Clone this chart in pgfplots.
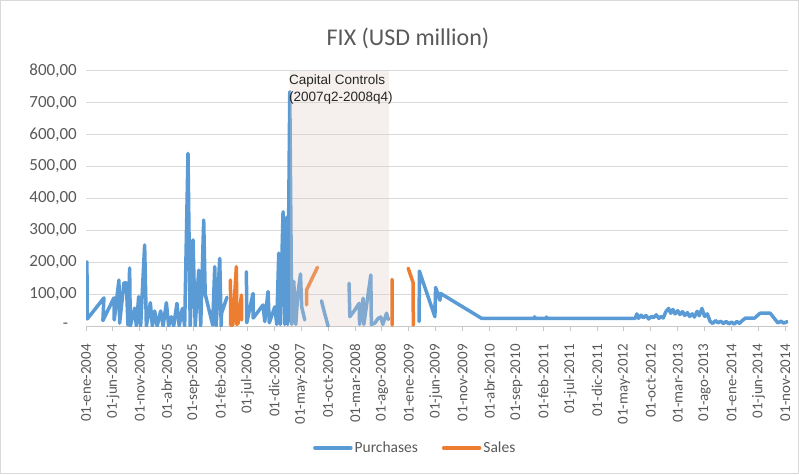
\documentclass[border=0pt]{standalone}
\usepackage{fontspec}
\setmainfont{Carlito}
\newfontfamily\arialfont{Liberation Sans}
\usepackage{pgfplots}
\pgfplotsset{compat=1.18}
\definecolor{cblue}{RGB}{91,155,213}
\definecolor{corange}{RGB}{237,125,49}
\definecolor{ctext}{RGB}{89,89,89}
\definecolor{cgrid}{RGB}{217,217,217}
\definecolor{caxis}{RGB}{200,200,200}
\definecolor{cshade}{RGB}{222,205,200}
\begin{document}
\begin{tikzpicture}
\path[use as bounding box] (0,0) rectangle (799pt,474pt);
\draw[cgrid, line width=0.8pt] (0.4pt,0.4pt) rectangle (798.6pt,473.6pt);
\node[font=\fontsize{24}{28}\selectfont, text=ctext] at (408pt,436pt) {FIX (USD million)};
\begin{axis}[
  at={(86pt,148pt)}, anchor=south west,
  scale only axis, width=702pt, height=255.3pt,
  xmin=0, xmax=130.5, ymin=0, ymax=800,
  axis x line*=bottom, axis y line*=left,
  y axis line style={draw=none},
  x axis line style={caxis, line width=0.9pt},
  ytick={0,100,...,800},
  yticklabels={{-\hphantom{0}},{100,00},{200,00},{300,00},{400,00},{500,00},{600,00},{700,00},{800,00}},
  ymajorgrids, major grid style={cgrid, line width=0.9pt},
  ytick style={draw=none},
  xtick={0,5,...,130},
  xticklabels={01-ene-2004,01-jun-2004,01-nov-2004,01-abr-2005,01-sep-2005,01-feb-2006,01-jul-2006,01-dic-2006,01-may-2007,01-oct-2007,01-mar-2008,01-ago-2008,01-ene-2009,01-jun-2009,01-nov-2009,01-abr-2010,01-sep-2010,01-feb-2011,01-jul-2011,01-dic-2011,01-may-2012,01-oct-2012,01-mar-2013,01-ago-2013,01-ene-2014,01-jun-2014,01-nov-2014},
  xtick style={caxis, line width=0.9pt},
  tick align=outside, major tick length=5pt,
  xticklabel style={rotate=90, anchor=east, inner sep=0pt, xshift=-13pt, font=\fontsize{15}{18}\selectfont, text=ctext},
  yticklabel style={inner sep=0pt, xshift=-4pt, font=\fontsize{17}{20}\selectfont, text=ctext},
  unbounded coords=jump,
  legend columns=2,
  legend style={at={(axis description cs:0.469,-0.478)}, anchor=center, draw=none, fill=none,
    font=\fontsize{15.5}{18}\selectfont, text=ctext,
    /tikz/every even column/.append style={column sep=22pt}},
  legend image code/.code={\draw[#1] (0pt,0pt) -- (36pt,0pt);},
]
\addplot[cblue, line width=3.5pt, line join=round, line cap=round] coordinates {
(0.17,201)(0.24,22)(3.33,88)(3.14,17)(5.19,88)(5.25,19)(6.12,144)(6.25,9)(7.05,135)(7.5,135)(7.8,3)(8.11,182)(8.24,0)(9.04,56)(9.36,0)(9.79,92)(10.16,0)(10.9,254)(11.22,0)(11.96,73)(12.33,0)(12.76,47)(13.23,0)(13.88,47)(14.34,0)(14.94,73)(15.37,0)(15.87,29)(16.3,0)(16.91,71)(17.32,0)(17.92,55)(18.34,0)(18.96,541)(19.37,0)(19.89,270)(20.3,0)(20.95,175)(21.32,0)(21.88,332)(22.16,100)(23.55,3)(23.93,186)(24.2,0)(24.86,212)(25.13,0)(25.2,40)(26.2,90)
(26.3,nan)
(29.82,170)(29.88,10)(31.05,102)(31.09,25)(32.91,66)(33.23,14)(33.84,108)(34.07,10)(35.1,60)(35.46,5)(35.83,228)(36.11,5)(36.63,358)(36.95,5)(37.23,340)(37.5,5)(37.88,734)(38.25,5)(38.62,140)(39.0,5)(39.37,100)(39.87,163)(40.1,60)(40.67,19)
(41,nan)
(43.78,79)(44.2,50)(45.0,0)
(46,nan)
(48.9,134)(49.04,29)(49.97,50)(50.77,71)(50.86,5)(51.52,87)(51.65,5)(52.95,160)(53.04,5)(53.69,9)(54.3,24)(54.8,28)(55.18,5)(55.87,40)(56.2,20)
(57,nan)
(61.93,14)(61.97,172)(64.86,29)(64.99,121)(65.8,81)(65.92,102)(73.54,24)(83.3,24)(83.4,29)(83.5,24)(85.5,24)(85.6,28)(85.7,24)(102.1,24)(102.4,38)(102.7,24)(103.2,34)(103.6,26)(104.1,33)(104.6,22)(105.1,30)(105.5,26)(106.0,35)(106.5,24)(106.9,30)(107.3,25)(107.8,45)(108.3,55)(108.7,40)(109.1,52)(109.5,38)(110.0,48)(110.4,36)(110.9,45)(111.3,33)(111.8,42)(112.2,30)(112.7,38)(113.1,28)(113.6,46)(114.0,32)(114.5,55)(115.0,30)(115.5,38)(116.0,15)(116.5,8)(117.0,17)(117.5,10)(118.0,15)(118.5,8)(119.0,14)(119.5,7)(120.0,12)(120.5,6)(121.0,14)(121.5,8)(122.0,17)(122.6,25)(124.3,25)(125.3,40)(127.2,40)(128.6,10)(129.2,15)(129.7,9)(130.4,14)
};
\addlegendentry{Purchases}
\addplot[corange, line width=3.5pt, line join=round, line cap=round] coordinates {
(26.85,144)(26.9,3)(27.3,3)(27.95,186)(28.05,5)(28.3,10)(28.9,97)(28.95,19)
(30,nan)
(41.0,66)(41.0,113)(43.03,184)
(44,nan)
(56.9,146)(56.92,3)
(58,nan)
(59.9,181)(60.82,135)(60.84,3)
};
\addlegendentry{Sales}
\fill[cshade, opacity=0.3] (axis cs:38.0,0) rectangle (axis cs:56.3,800);
\node[anchor=north west, font=\arialfont\fontsize{13.5}{16.5}\selectfont, align=left, inner sep=0pt, text=black!85] at (axis cs:37.7,787) {Capital Controls\\(2007q2-2008q4)};
\end{axis}
\end{tikzpicture}
\end{document}
